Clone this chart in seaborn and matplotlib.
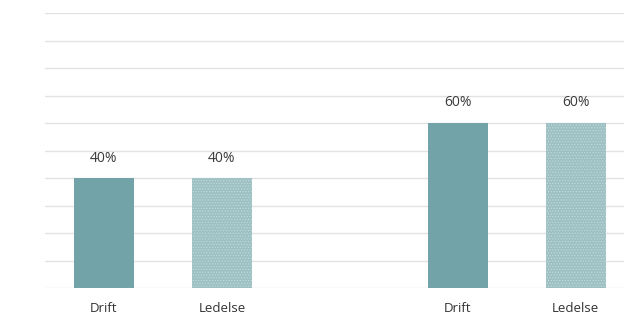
import matplotlib
matplotlib.use("Agg")
import matplotlib.pyplot as plt
import seaborn as sns
import pandas as pd

# Data
slots = ["g1_drift", "g1_ledelse", "gap", "g2_drift", "g2_ledelse"]
categories = ["g1_drift", "g1_ledelse", "g2_drift", "g2_ledelse"]
tick_labels = ["Drift", "Ledelse", "", "Drift", "Ledelse"]
series = ["Drift", "Ledelse", "Drift", "Ledelse"]
series_order = ["Drift", "Ledelse"]
values = [40, 40, 60, 60]

sns.set_theme(style="white")
plt.rcParams['font.family'] = ['Open Sans', 'DejaVu Sans']
plt.rcParams['hatch.linewidth'] = 0.6

df = pd.DataFrame({"slot": categories, "value": values, "series": series})

fig = plt.figure(figsize=(6.24, 3.17), dpi=100)
ax = fig.add_axes([45 / 624, (317 - 288) / 317, 1 - 45 / 624, (288 - 13) / 317])

palette = {"Drift": "#72a3a8", "Ledelse": "#9dc0c3"}
sns.barplot(data=df, x="slot", y="value", hue="series", order=slots,
            hue_order=series_order, palette=palette, width=0.51, dodge=False,
            legend=False, ax=ax, linewidth=0, saturation=1)

for name, cont in zip(series_order, ax.containers):
    if name == "Ledelse":
        for patch in cont:
            patch.set_hatch("......")
            patch.set_edgecolor("#c0d8da")
            patch.set_linewidth(0)
    ax.bar_label(cont, fmt="%g%%", padding=9, fontsize=10, color="#3a3a3a")

ax.set_xlim(-0.5, 4.41)
ax.set_ylim(0, 100)
ax.set_yticks(range(0, 101, 10))
ax.set_yticklabels([])
ax.tick_params(axis="y", length=0)
ax.grid(axis="y", color="#e2e2e2", linewidth=1)
ax.set_axisbelow(True)
ax.set_xticks(range(len(slots)))
ax.set_xticklabels(tick_labels, fontsize=9.5, color="#333333")
ax.tick_params(axis="x", length=0, pad=10)
ax.set_xlabel("")
ax.set_ylabel("")
for sp in ax.spines.values():
    sp.set_visible(False)

fig.savefig("out.png", dpi=100)
